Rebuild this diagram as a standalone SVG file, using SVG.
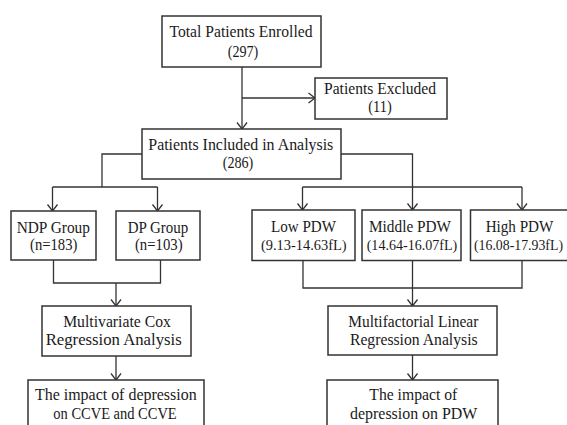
<svg xmlns="http://www.w3.org/2000/svg" width="567" height="425" viewBox="0 0 567 425">
<style>
.box{fill:#fff;stroke:#333;stroke-width:1.5}
.ln{fill:none;stroke:#333;stroke-width:1.3}
text{font-family:"Liberation Serif","Times New Roman",serif;font-size:17px;fill:#1a1a1a;text-anchor:middle}
text.rng{font-size:13.8px}
</style>
<defs>
<marker id="arr" viewBox="-8 -7 9 14" refX="0" refY="0" markerWidth="9" markerHeight="14" orient="auto" markerUnits="userSpaceOnUse">
<path d="M-6.5,-5 L0,0 L-6.5,5" fill="none" stroke="#333" stroke-width="1.3"/>
</marker>
</defs>
<rect width="567" height="425" fill="#fff"/>
<g id="connectors">
<path class="ln" d="M242,67 V129" marker-end="url(#arr)"/>
<path class="ln" d="M242,98 H315" marker-end="url(#arr)"/>
<path class="ln" d="M142,154 H102 V187"/>
<path class="ln" d="M52.5,187 H157.5"/>
<path class="ln" d="M52.5,187 V211" marker-end="url(#arr)"/>
<path class="ln" d="M157.5,187 V211" marker-end="url(#arr)"/>
<path class="ln" d="M341,154 H412.5 V210" marker-end="url(#arr)"/>
<path class="ln" d="M302.5,187 H522"/>
<path class="ln" d="M302.5,187 V210" marker-end="url(#arr)"/>
<path class="ln" d="M522,187 V210" marker-end="url(#arr)"/>
<path class="ln" d="M53.5,260 V283 H160.5 V260"/>
<path class="ln" d="M116,283 V306" marker-end="url(#arr)"/>
<path class="ln" d="M116,356 V380" marker-end="url(#arr)"/>
<path class="ln" d="M303,260.5 V288 H522 V260.5"/>
<path class="ln" d="M412.5,260.5 V306" marker-end="url(#arr)"/>
<path class="ln" d="M412.5,355 V380" marker-end="url(#arr)"/>
</g>
<g id="total">
<rect class="box" x="162" y="16" width="159" height="51"/>
<text x="241" y="37" textLength="143" lengthAdjust="spacingAndGlyphs">Total Patients Enrolled</text>
<text x="243" y="56.5" textLength="30.6" lengthAdjust="spacingAndGlyphs">(297)</text>
</g>
<g id="excluded">
<rect class="box" x="315" y="78" width="132" height="41"/>
<text x="380" y="93.5" textLength="112" lengthAdjust="spacingAndGlyphs">Patients Excluded</text>
<text x="380" y="112" textLength="23.4" lengthAdjust="spacingAndGlyphs">(11)</text>
</g>
<g id="included">
<rect class="box" x="142" y="129" width="199" height="50"/>
<text x="240.8" y="150" textLength="185" lengthAdjust="spacingAndGlyphs">Patients Included in Analysis</text>
<text x="238" y="168" textLength="30.6" lengthAdjust="spacingAndGlyphs">(286)</text>
</g>
<g id="ndp">
<rect class="box" x="11" y="211" width="85" height="49"/>
<text x="53.3" y="232.5" textLength="73.3" lengthAdjust="spacingAndGlyphs">NDP Group</text>
<text x="53.7" y="250" textLength="47.3" lengthAdjust="spacingAndGlyphs">(n=183)</text>
</g>
<g id="dp">
<rect class="box" x="116" y="211" width="84" height="49"/>
<text x="158" y="232.5" textLength="60.6" lengthAdjust="spacingAndGlyphs">DP Group</text>
<text x="158.8" y="250" textLength="47.7" lengthAdjust="spacingAndGlyphs">(n=103)</text>
</g>
<g id="low">
<rect class="box" x="252" y="210" width="103" height="50.5"/>
<text x="303.5" y="231.5" textLength="65" lengthAdjust="spacingAndGlyphs">Low PDW</text>
<text class="rng" x="303.8" y="250" textLength="85.7" lengthAdjust="spacingAndGlyphs">(9.13-14.63fL)</text>
</g>
<g id="middle">
<rect class="box" x="362" y="210" width="99" height="50.5"/>
<text x="410" y="231.5" textLength="82" lengthAdjust="spacingAndGlyphs">Middle PDW</text>
<text class="rng" x="412" y="250" textLength="90.6" lengthAdjust="spacingAndGlyphs">(14.64-16.07fL)</text>
</g>
<g id="high">
<rect class="box" x="470.5" y="210" width="104" height="50.5"/>
<text x="519.5" y="231.5" textLength="67.7" lengthAdjust="spacingAndGlyphs">High PDW</text>
<text class="rng" x="518.5" y="250" textLength="89" lengthAdjust="spacingAndGlyphs">(16.08-17.93fL)</text>
</g>
<g id="cox">
<rect class="box" x="42" y="306" width="149" height="50"/>
<text x="117" y="326.5" textLength="107.7" lengthAdjust="spacingAndGlyphs">Multivariate Cox</text>
<text x="113.7" y="345" textLength="136" lengthAdjust="spacingAndGlyphs">Regression Analysis</text>
</g>
<g id="impact-ccve">
<rect class="box" x="28" y="380" width="176" height="60"/>
<text x="115.8" y="400" textLength="161.7" lengthAdjust="spacingAndGlyphs">The impact of depression</text>
<text x="115" y="418.5" textLength="123.4" lengthAdjust="spacingAndGlyphs">on CCVE and CCVE</text>
</g>
<g id="linear">
<rect class="box" x="328" y="306" width="169" height="49"/>
<text x="413.3" y="326.5" textLength="130" lengthAdjust="spacingAndGlyphs">Multifactorial Linear</text>
<text x="413.8" y="345" textLength="127.7" lengthAdjust="spacingAndGlyphs">Regression Analysis</text>
</g>
<g id="impact-pdw">
<rect class="box" x="327" y="380" width="171" height="60"/>
<text x="413.3" y="400" textLength="88" lengthAdjust="spacingAndGlyphs">The impact of</text>
<text x="413.7" y="418.5" textLength="127.3" lengthAdjust="spacingAndGlyphs">depression on PDW</text>
</g>
</svg>
